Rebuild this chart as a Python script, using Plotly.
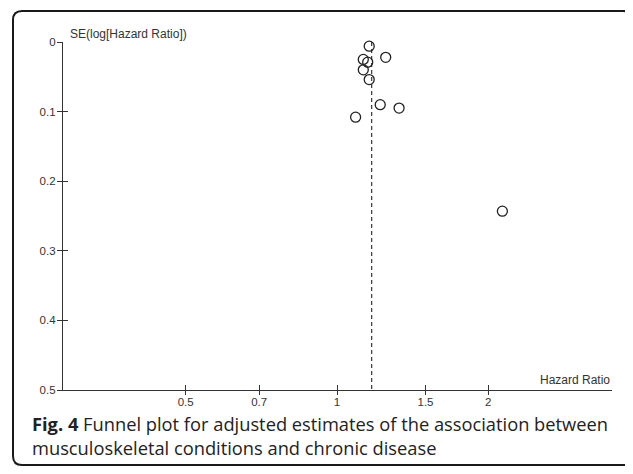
import plotly.graph_objects as go

# ---- data ----
hazard_ratio = [1.159, 1.250, 1.128, 1.151, 1.128, 1.159, 1.219, 1.329, 1.089, 2.133]
se_log_hr = [0.006, 0.022, 0.025, 0.029, 0.040, 0.054, 0.090, 0.095, 0.108, 0.243]
pooled_hr = 1.172
x_tick_vals = [0.5, 0.7, 1, 1.5, 2]
x_tick_text = ["0.5", "0.7", "1", "1.5", "2"]
y_tick_vals = [0, 0.1, 0.2, 0.3, 0.4, 0.5]
y_tick_text = ["0", "0.1", "0.2", "0.3", "0.4", "0.5"]
y_title = "SE(log[Hazard Ratio])"
x_title = "Hazard Ratio"
caption_bold = "Fig. 4"
caption_rest = (" Funnel plot for adjusted estimates of the association between"
                "<br>musculoskeletal conditions and chronic disease")

# ---- layout geometry (page has an 8px body margin) ----
OFF = 8
W, H = 633 - OFF, 474 - OFF
L, R, T, B = 63 - OFF, 21, 42 - OFF, 84
PW, PH = W - L - R, H - T - B
XR = [-0.5451, 0.5471]
YR = [0.5, 0]

def px(xp):
    return (xp - OFF - L) / PW

def py(yp):
    return 1 - (yp - OFF - T) / PH

AX = "#333333"
FONT = "Liberation Sans, Arial, sans-serif"

fig = go.Figure()

# pooled estimate (dashed line)
fig.add_trace(go.Scatter(
    x=[pooled_hr, pooled_hr], y=[YR[1], YR[0]], mode="lines",
    line=dict(color="#444444", width=1.3, dash="4px,3px"),
    hoverinfo="skip", showlegend=False))

# studies
fig.add_trace(go.Scatter(
    x=hazard_ratio, y=se_log_hr, mode="markers", cliponaxis=False,
    marker=dict(symbol="circle-open", size=10, color="#222222",
                line=dict(width=1.3, color="#222222")),
    showlegend=False))

# invisible trace on overlay axes (for the inner half of crossing ticks)
fig.add_trace(go.Scatter(x=[1], y=[0.25], xaxis="x2", yaxis="y2",
                         mode="markers", marker=dict(opacity=0),
                         hoverinfo="skip", showlegend=False))

common_x = dict(type="log", range=XR, tickvals=x_tick_vals, ticktext=x_tick_text,
                showgrid=False, zeroline=False, tickcolor=AX, tickwidth=1.3)
common_y = dict(range=YR, tickvals=y_tick_vals, ticktext=y_tick_text,
                showgrid=False, zeroline=False, tickcolor=AX, tickwidth=1.3)

fig.update_layout(
    width=W, height=H,
    margin=dict(l=L, r=R, t=T, b=B, pad=0),
    paper_bgcolor="white", plot_bgcolor="white",
    font=dict(family=FONT, size=11.5, color=AX),
    xaxis=dict(**common_x, ticks="outside", ticklen=4, ticklabelstandoff=-3,
               showline=True, linecolor=AX, linewidth=1.3,
               tickfont=dict(family=FONT, size=11.5, color=AX)),
    yaxis=dict(**common_y, ticks="outside", ticklen=5, ticklabelstandoff=-1,
               showline=True, linecolor=AX, linewidth=1.3,
               tickfont=dict(family=FONT, size=11.5, color=AX)),
    xaxis2=dict(**common_x, overlaying="x", ticks="inside", ticklen=5,
                showticklabels=False, showline=False, anchor="y2"),
    yaxis2=dict(**common_y, overlaying="y", ticks="inside", ticklen=5,
                showticklabels=False, showline=False, anchor="x2"),
)

# axis titles
fig.add_annotation(text=y_title, xref="paper", yref="paper",
                   x=px(68), y=py(34), xanchor="left", yanchor="middle",
                   showarrow=False, font=dict(family=FONT, size=12, color=AX))
fig.add_annotation(text=x_title, xref="paper", yref="paper",
                   x=px(612), y=py(380), xanchor="right", yanchor="middle",
                   showarrow=False, font=dict(family=FONT, size=12, color=AX))

# caption
fig.add_annotation(text="<b>" + caption_bold + "</b>" + caption_rest,
                   xref="paper", yref="paper", x=px(30), y=py(409),
                   xanchor="left", yanchor="top", align="left", showarrow=False,
                   font=dict(family="Open Sans, sans-serif", size=18.3, color="#222222"))

# rounded frame
x0, x1, y0, y1, r = 13, 632, 11, 465, 9
path = (f"M {px(x0 + r)},{py(y0)} L {px(x1 - r)},{py(y0)} "
        f"Q {px(x1)},{py(y0)} {px(x1)},{py(y0 + r)} "
        f"L {px(x1)},{py(y1 - r)} Q {px(x1)},{py(y1)} {px(x1 - r)},{py(y1)} "
        f"L {px(x0 + r)},{py(y1)} Q {px(x0)},{py(y1)} {px(x0)},{py(y1 - r)} "
        f"L {px(x0)},{py(y0 + r)} Q {px(x0)},{py(y0)} {px(x0 + r)},{py(y0)} Z")
fig.add_shape(type="path", path=path, xref="paper", yref="paper",
              line=dict(color="#1a1a1a", width=2), layer="above")

fig.write_html("out.html")
